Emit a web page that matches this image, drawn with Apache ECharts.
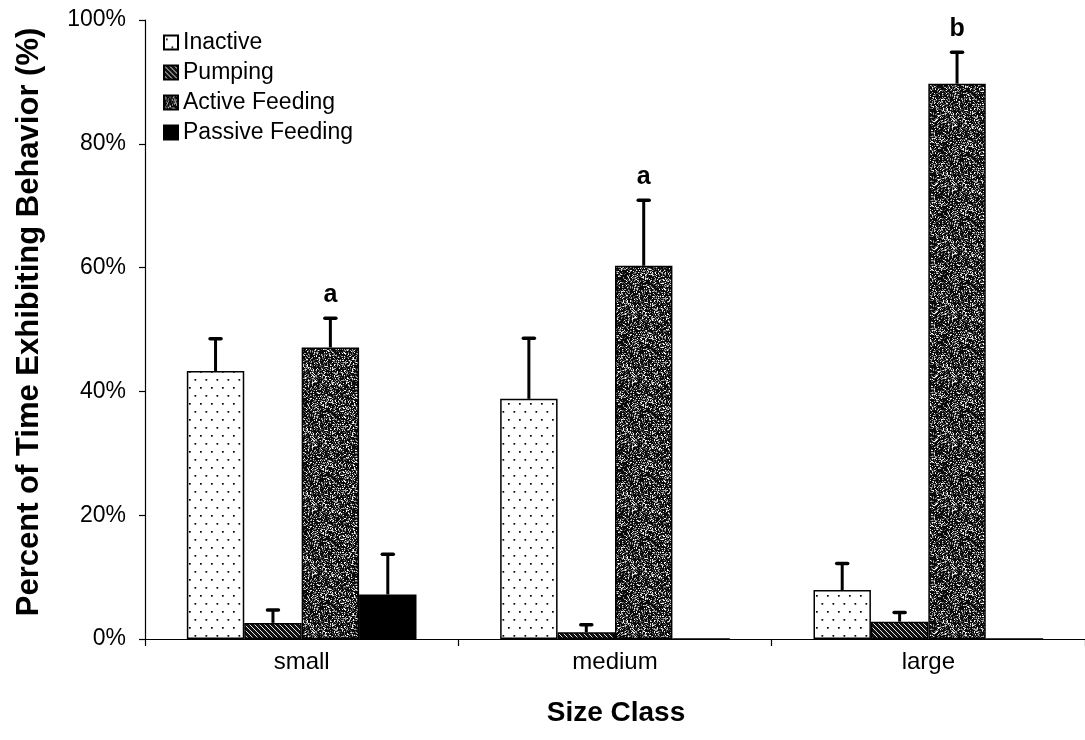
<!DOCTYPE html>
<html>
<head>
<meta charset="utf-8">
<script src="https://cdn.jsdelivr.net/npm/echarts@6/dist/echarts.min.js"></script>
<style>
  html, body { margin: 0; padding: 0; background: #fff; }
  #chart { width: 1085px; height: 740px; }
</style>
</head>
<body>
<div id="chart"></div>
<script>
// Size classes on the category axis
const categories = ['small', 'medium', 'large'];
const yTicks = [0, 20, 40, 60, 80, 100];

// Mean percent of time per behaviour, by size class
const inactive = [43.3, 38.8, 7.9];
const pumping = [2.6, 1.1, 2.8];
const activeFeeding = [47.1, 60.3, 89.7];
const passiveFeeding = [7.2, 0, 0];

// Upper error (SE) for each bar
const inactiveErr = [5.2, 9.8, 4.3];
const pumpingErr = [2.1, 1.2, 1.5];
const activeFeedingErr = [4.7, 10.6, 5.1];
const passiveFeedingErr = [6.5, 0, 0];

// Significance letters above the Active Feeding bars
const sigLetters = ['a', 'a', 'b'];

const seriesNames = ['Inactive', 'Pumping', 'Active Feeding', 'Passive Feeding'];
const seriesValues = [inactive, pumping, activeFeeding, passiveFeeding];
const seriesErrors = [inactiveErr, pumpingErr, activeFeedingErr, passiveFeedingErr];

const xTitle = 'Size Class';
const yTitle = 'Percent of Time Exhibiting Behavior (%)';

const CAT_GAP = 0.267;
const FONT = '"Liberation Sans", Arial, sans-serif';

// ---- fill textures ----
function dotPattern() {
  const c = document.createElement('canvas');
  c.width = 11; c.height = 16;
  const g = c.getContext('2d');
  g.fillStyle = '#fff'; g.fillRect(0, 0, 11, 16);
  g.fillStyle = '#000';
  g.fillRect(2, 3, 1.7, 1.7);
  g.fillRect(7.5, 11, 1.7, 1.7);
  return c;
}
function hatchPattern() {
  const s = 5;
  const c = document.createElement('canvas');
  c.width = s; c.height = s;
  const g = c.getContext('2d');
  g.fillStyle = '#111'; g.fillRect(0, 0, s, s);
  g.strokeStyle = '#fff'; g.lineWidth = 0.9;
  g.beginPath();
  g.moveTo(-1, -1); g.lineTo(s + 1, s + 1);
  g.moveTo(-1, s - 1); g.lineTo(1, s + 1);
  g.moveTo(s - 1, -1); g.lineTo(s + 1, 1);
  g.stroke();
  return c;
}
function speckPattern() {
  const s = 64;
  const c = document.createElement('canvas');
  c.width = s; c.height = s;
  const g = c.getContext('2d');
  const img = g.createImageData(s, s);
  let h = 2166136261;
  for (let i = 0; i < s * s; i++) {
    h ^= i * 2654435761; h = Math.imul(h ^ (h >>> 15), 2246822507);
    h = Math.imul(h ^ (h >>> 13), 3266489909); h ^= h >>> 16;
    const r = (h >>> 0) / 4294967296;
    const v = r < 0.6 ? 10 : (r < 0.78 ? 90 : (r < 0.9 ? 170 : 245));
    img.data[i * 4] = v; img.data[i * 4 + 1] = v; img.data[i * 4 + 2] = v; img.data[i * 4 + 3] = 255;
  }
  g.putImageData(img, 0, 0);
  return c;
}

const fills = [
  { image: dotPattern(), repeat: 'repeat' },
  { image: hatchPattern(), repeat: 'repeat' },
  { image: speckPattern(), repeat: 'repeat' },
  '#000'
];

const barSeries = seriesNames.map((name, i) => ({
  name: name,
  type: 'bar',
  data: seriesValues[i],
  barGap: '0%',
  barCategoryGap: (CAT_GAP * 100) + '%',
  itemStyle: { color: fills[i], borderColor: '#000', borderWidth: 1.5 },
  emphasis: { disabled: true },
  z: 2
}));

// Error bar records: [category index, series index, mean, error, letter]
const errData = [];
seriesValues.forEach((vals, s) => {
  vals.forEach((v, c) => {
    errData.push([c, s, v, seriesErrors[s][c], s === 2 ? sigLetters[c] : '']);
  });
});

const errorSeries = {
  type: 'custom',
  name: 'error',
  data: errData,
  z: 5,
  silent: true,
  encode: { x: 0, y: 2 },
  renderItem: function (params, api) {
    const cat = api.value(0);
    const idx = api.value(1);
    const val = api.value(2);
    const err = api.value(3);
    const letter = errData[params.dataIndex][4];
    const base = api.coord([cat, val]);
    const top = api.coord([cat, val + err]);
    const band = api.size([1, 0])[0];
    const bw = band * (1 - CAT_GAP) / 4;
    const x = base[0] + (idx - 1.5) * bw;
    const children = [];
    if (err > 0) {
      children.push({
        type: 'line',
        shape: { x1: x, y1: base[1], x2: x, y2: top[1] },
        style: { stroke: '#000', lineWidth: 3 }
      });
      children.push({
        type: 'line',
        shape: { x1: x - 5.5, y1: top[1], x2: x + 5.5, y2: top[1] },
        style: { stroke: '#000', lineWidth: 3.5, lineCap: 'round' }
      });
    }
    if (letter) {
      children.push({
        type: 'text',
        style: {
          x: x, y: top[1] - 11, text: letter,
          textAlign: 'center', textVerticalAlign: 'bottom',
          font: 'bold 25px ' + FONT, fill: '#000'
        }
      });
    }
    return { type: 'group', children: children };
  }
};

const chart = echarts.init(document.getElementById('chart'), null, { renderer: 'canvas' });
chart.setOption({
  animation: false,
  backgroundColor: '#fff',
  grid: { left: 145, top: 20, width: 941, height: 619, containLabel: false },
  legend: {
    data: seriesNames,
    orient: 'vertical',
    left: 158,
    top: 26,
    icon: 'rect',
    itemWidth: 14,
    itemHeight: 14,
    itemGap: 7,
    textStyle: { fontFamily: FONT, fontSize: 23, color: '#000', padding: [0, 0, 0, 0] },
    selectedMode: false
  },
  xAxis: {
    type: 'category',
    data: categories,
    axisLine: { lineStyle: { color: '#000', width: 1.2 } },
    axisTick: { show: true, length: 7, lineStyle: { color: '#000', width: 1.2 } },
    axisLabel: { fontFamily: FONT, fontSize: 24, color: '#000', margin: 11 }
  },
  yAxis: {
    type: 'value',
    min: yTicks[0],
    max: yTicks[yTicks.length - 1],
    interval: yTicks[1] - yTicks[0],
    axisLine: { show: true, lineStyle: { color: '#000', width: 1.2 } },
    axisTick: { show: true, length: 6, lineStyle: { color: '#000', width: 1.2 } },
    splitLine: { show: false },
    axisLabel: { fontFamily: FONT, fontSize: 23, color: '#000', margin: 19, formatter: '{value}%' }
  },
  graphic: [
    {
      type: 'text',
      x: 616, y: 713,
      style: {
        text: xTitle, font: 'bold 28px ' + FONT, fill: '#000',
        textAlign: 'center', textVerticalAlign: 'middle'
      }
    },
    {
      type: 'text',
      x: 29, y: 322,
      rotation: Math.PI / 2,
      style: {
        text: yTitle, font: 'bold 31px ' + FONT, fill: '#000',
        textAlign: 'center', textVerticalAlign: 'middle'
      }
    }
  ],
  series: barSeries.concat([errorSeries])
});
</script>
</body>
</html>
